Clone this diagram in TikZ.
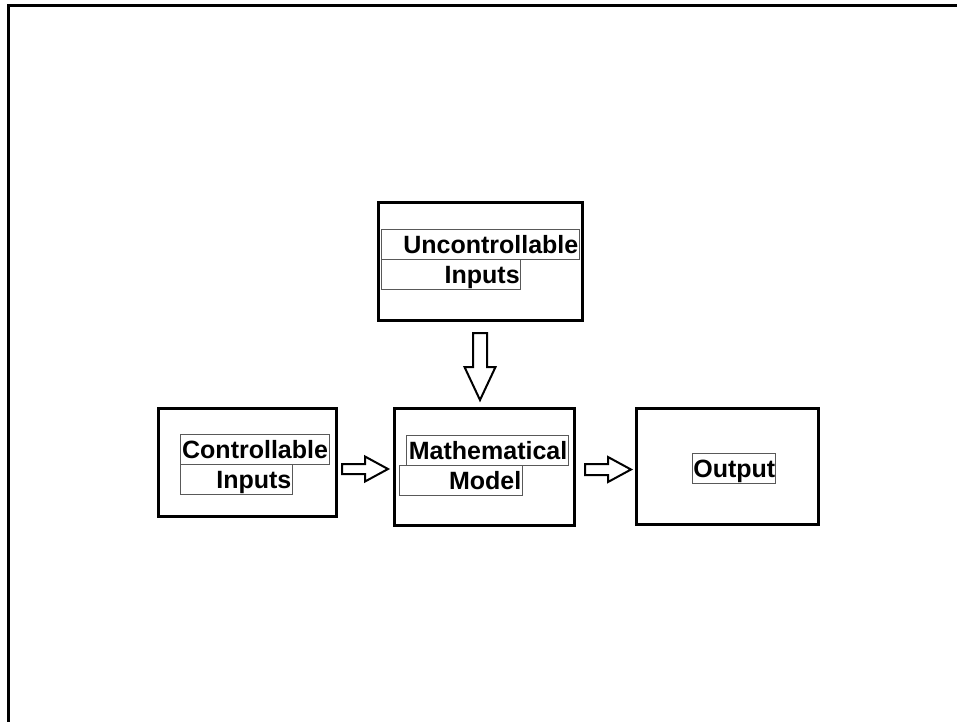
\documentclass[tikz,border=0pt]{standalone}
\usepackage{fontspec}
\setmainfont{Liberation Sans}
\usetikzlibrary{positioning}

\begin{document}
\begin{tikzpicture}[x=1pt, y=-1pt,
    block/.style={draw, line width=3pt, minimum width=#1, inner sep=0pt, outer sep=0pt, anchor=north west},
    lbl/.style={draw=gray!70!black, line width=1pt, minimum height=30, text height=18, text depth=0pt, inner sep=1pt, outer sep=0pt, anchor=north west, text width=#1-2, align=right, font=\fontsize{25}{30}\selectfont\bfseries},
    barrow/.style={draw, line width=2pt, fill=white, line join=miter}]
      \useasboundingbox (0,0) rectangle (957,721);
      \clip (0,0) rectangle (957,721);

      % outer frame
      \draw [line width=3pt] (8.5,740) |- (980,5.5);

      % main boxes
      \node [block=204, minimum height=118] (unctrl) at (378.5,202.5) {};
      \node [block=178, minimum height=108] (ctrl) at (158.5,408.5) {};
      \node [block=180, minimum height=117] (model) at (394.5,408.5) {};
      \node [block=182, minimum height=116] (output) at (636.5,408.5) {};

      % labels
      \node [lbl=198.3] (unctrl1) at (381,229) {Uncontrollable};
      \node [lbl=139.7] (unctrl2) at (unctrl1.south west) {Inputs};
      \node [lbl=148.3] (ctrl1) at (180.7,434.3) {Controllable};
      \node [lbl=111.6] (ctrl2) at (ctrl1.south west) {Inputs};
      \node [lbl=161.6] (model1) at (406.7,435) {Mathematical};
      \node [lbl=123] (model2) at (399.3,465.3) {Model};
      \node [lbl=83.4] (output1) at (692.3,453.3) {Output};

      % block arrows
      \coordinate (a1) at (342,469);
      \coordinate (a2) at (585,469.5);
      \coordinate (a3) at (480,333);

      \draw [barrow] (a1) ++(0,-5) -- ++(23,0) -- ++(0,-7.5) -- ++(23,12.5) -- ++(-23,12.5) -- ++(0,-7.5) -- ++(-23,0) -- cycle;
      \draw [barrow] (a2) ++(0,-5.5) -- ++(23,0) -- ++(0,-7) -- ++(23,12.5) -- ++(-23,12.5) -- ++(0,-7) -- ++(-23,0) -- cycle;
      \draw [barrow] (a3) ++(-7,0) -- ++(0,34) -- ++(-8.5,0) -- ++(15.5,33) -- ++(15.5,-33) -- ++(-8.5,0) -- ++(0,-34) -- cycle;
\end{tikzpicture}
\end{document}
